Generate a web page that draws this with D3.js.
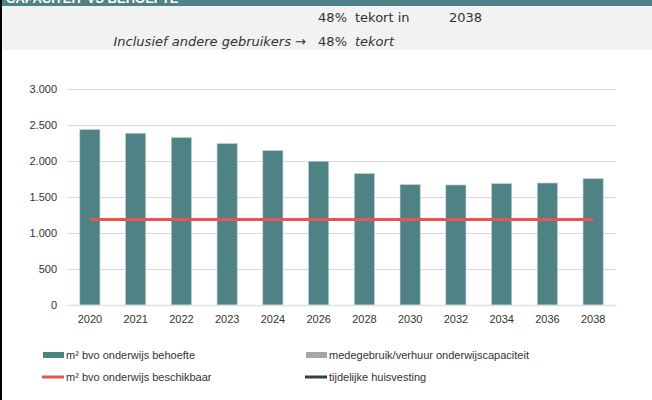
<!DOCTYPE html>
<html>
<head>
<meta charset="utf-8">
<script src="https://cdn.jsdelivr.net/npm/d3@7"></script>
<style>
  body { margin: 0; background: #fff; }
  svg { display: block; font-family: "Liberation Sans", Arial, sans-serif; }
</style>
</head>
<body>
<div id="chart"></div>
<script>
// chart data
const years = ["2020","2021","2022","2023","2024","2026","2028","2030","2032","2034","2036","2038"];
const behoefte = [2436, 2385, 2325, 2242, 2144, 1996, 1825, 1672, 1667, 1686, 1694, 1755];
const beschikbaar = [1186, 1186, 1186, 1186, 1186, 1186, 1186, 1186, 1186, 1186, 1186, 1186];
const yTicks = [0, 500, 1000, 1500, 2000, 2500, 3000];
const legendItems = [
  {label: "m² bvo onderwijs behoefte", type: "rect", color: "#4e8285"},
  {label: "medegebruik/verhuur onderwijscapaciteit", type: "rect", color: "#a6a6a6"},
  {label: "m² bvo onderwijs beschikbaar", type: "line", color: "#e85454"},
  {label: "tijdelijke huisvesting", type: "line", color: "#3a3a4e"}
];

const W = 652, H = 400;
const margin = {top: 89, right: 36, bottom: 95, left: 67},
    width = W - margin.left - margin.right,
    height = H - margin.top - margin.bottom;

const svg = d3.select("#chart").append("svg")
    .attr("width", W)
    .attr("height", H);

// header bands
svg.append("rect").attr("x", 0).attr("y", 0).attr("width", W).attr("height", 50).attr("fill", "#f2f2f2");
svg.append("rect").attr("x", 0).attr("y", 0).attr("width", W).attr("height", 6).attr("fill", "#4e8285");
svg.append("text").attr("x", 6).attr("y", 3)
  .attr("fill", "#fff").style("font-weight", "bold").style("font-size", "13px")
  .text("CAPACITEIT VS BEHOEFTE");
svg.append("rect").attr("x", 0).attr("y", 0).attr("width", 2).attr("height", H).attr("fill", "#000");

const hdr = svg.append("g").style("font-size", "13px").style("font-family", "'DejaVu Sans', sans-serif").attr("fill", "#333");
hdr.append("text").attr("x", 347).attr("y", 22).attr("text-anchor", "end").text("48%");
hdr.append("text").attr("x", 355).attr("y", 22).text("tekort in");
hdr.append("text").attr("x", 449).attr("y", 22).text("2038");
hdr.append("text").attr("x", 306).attr("y", 46).attr("text-anchor", "end").style("font-style", "italic").text("Inclusief andere gebruikers →");
hdr.append("text").attr("x", 347).attr("y", 46).attr("text-anchor", "end").text("48%");
hdr.append("text").attr("x", 355).attr("y", 46).style("font-style", "italic").text("tekort");

const g = svg.append("g").attr("transform", `translate(${margin.left},${margin.top})`);

const x = d3.scaleBand().domain(years).range([0, width]).paddingInner(0.56).paddingOuter(0.28);
const y = d3.scaleLinear().domain([0, 3000]).range([height, 0]);

// gridlines
g.append("g")
  .call(d3.axisLeft(y).tickValues(yTicks).tickSize(-width).tickFormat(""))
  .call(a => a.select(".domain").remove())
  .call(a => a.selectAll("line").attr("stroke", "#d9d9d9").attr("stroke-width", 1.2));

// y labels
g.append("g")
  .call(d3.axisLeft(y).tickValues(yTicks).tickSize(0).tickPadding(10)
    .tickFormat(d => d3.format(",")(d).replace(/,/g, ".")))
  .call(a => a.select(".domain").remove())
  .call(a => a.selectAll("text").attr("fill", "#333").style("font-size", "11px"));

// bars
g.selectAll(".bar")
  .data(years.map((d, i) => [d, behoefte[i]]))
  .join("rect")
  .attr("class", "bar")
  .attr("x", d => x(d[0]))
  .attr("y", d => y(d[1]))
  .attr("width", x.bandwidth())
  .attr("height", d => y(0) - y(d[1]))
  .attr("fill", "#4e8285")
  .attr("stroke", "#b9d0d1")
  .attr("stroke-width", 0.6);

// x axis
g.append("g")
  .attr("transform", `translate(0,${height})`)
  .call(d3.axisBottom(x).tickSize(0).tickPadding(10))
  .call(a => a.select(".domain").attr("stroke", "#e0e0e8").attr("stroke-width", 1.5))
  .call(a => a.selectAll("text").attr("fill", "#333").style("font-size", "11px"));

// beschikbaar line
const line = d3.line()
  .x((d, i) => x(years[i]) + x.bandwidth() / 2)
  .y(d => y(d));
g.append("path")
  .datum(beschikbaar)
  .attr("d", line)
  .attr("fill", "none")
  .attr("stroke", "#e85454")
  .attr("stroke-width", 3);

// legend
const legPos = [[43, 355], [306, 355], [43, 377], [306, 377]];
const leg = svg.append("g").style("font-size", "11px");
legendItems.forEach(function(item, i) {
  const [lx, ly] = legPos[i];
  if (item.type == "rect") {
    leg.append("rect").attr("x", lx).attr("y", ly - 3).attr("width", 21).attr("height", 6).attr("fill", item.color);
  } else {
    leg.append("line").attr("x1", lx - 1).attr("x2", lx + 21).attr("y1", ly).attr("y2", ly)
      .attr("stroke", item.color).attr("stroke-width", 3);
  }
  leg.append("text").attr("x", lx + 23).attr("y", ly + 4).attr("fill", "#333").text(item.label);
});
</script>
</body>
</html>
